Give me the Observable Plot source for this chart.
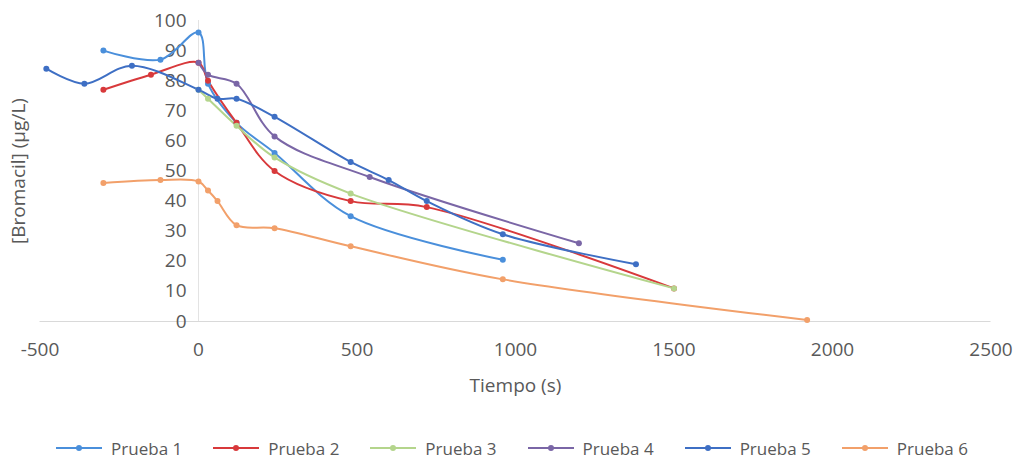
<!DOCTYPE html>
<html>
<head>
<meta charset="utf-8">
<script src="https://cdn.jsdelivr.net/npm/d3@7"></script>
<script src="https://cdn.jsdelivr.net/npm/@observablehq/plot@0.6"></script>
<style>
  body { margin: 0; background: #fff; font-family: "Open Sans", sans-serif; }
  #legend {
    display: flex; justify-content: center; align-items: center;
    gap: 30px; height: 46px; color: #595959; font-size: 17px;
  }
  #legend .item { display: flex; align-items: center; gap: 8px; }
</style>
</head>
<body>
<div id="chart"></div>
<div id="legend"></div>
<script>
// Series names and colours
const series = ["Prueba 1", "Prueba 2", "Prueba 3", "Prueba 4", "Prueba 5", "Prueba 6"];
const colors = ["#4a8fdb", "#d8393b", "#b4d58c", "#7a66a6", "#3e6fc4", "#f2a06a"];

// Time (s) and [Bromacil] (µg/L) for each test
const p1Time = [-300, -120, 0, 30, 120, 240, 480, 960];
const p1Conc = [90, 87, 96, 79, 66, 56, 35, 20.5];

const p2Time = [-300, -150, 0, 30, 120, 240, 480, 720, 1500];
const p2Conc = [77, 82, 86, 80, 66, 50, 40, 38, 11];

const p3Time = [0, 30, 120, 240, 480, 1500];
const p3Conc = [77, 74, 65, 54.5, 42.5, 11];

const p4Time = [0, 30, 120, 240, 540, 1200];
const p4Conc = [86, 82, 79, 61.5, 48, 26];

const p5Time = [-480, -360, -210, 0, 60, 120, 240, 480, 600, 720, 960, 1380];
const p5Conc = [84, 79, 85, 77, 74, 74, 68, 53, 47, 40, 29, 19];

const p6Time = [-300, -120, 0, 30, 60, 120, 240, 480, 960, 1920];
const p6Conc = [46, 47, 46.5, 43.5, 40, 32, 31, 25, 14, 0.5];

// Axis tick values
const xTicks = [-500, 0, 500, 1000, 1500, 2000, 2500];
const yTicks = [0, 10, 20, 30, 40, 50, 60, 70, 80, 90, 100];

const times = [p1Time, p2Time, p3Time, p4Time, p5Time, p6Time];
const concs = [p1Conc, p2Conc, p3Conc, p4Conc, p5Conc, p6Conc];

const rows = series.flatMap((name, i) =>
  times[i].map((t, j) => ({serie: name, t, c: concs[i][j]}))
);

const textColor = "#595959";

const chart = Plot.plot({
  width: 1023,
  height: 425,
  marginLeft: 39.5,
  marginRight: 32.5,
  marginTop: 20,
  marginBottom: 104,
  x: {domain: [-500, 2500], axis: null},
  y: {domain: [0, 100], axis: null},
  color: {domain: series, range: colors},
  style: {fontFamily: "Open Sans, sans-serif", background: "#fff"},
  marks: [
    Plot.ruleY([0], {stroke: "#d9d9d9", strokeWidth: 1}),
    Plot.ruleX([0], {y1: 0, y2: 100, stroke: "#e3e3e3", strokeWidth: 1}),
    Plot.text(yTicks, {x: 0, y: d => d, text: d => String(d), dx: -12, textAnchor: "end", fill: textColor, fontSize: 19}),
    Plot.text(xTicks, {x: d => d, y: 0, text: d => String(d), dy: 28, fill: textColor, fontSize: 19}),
    Plot.text(["Tiempo (s)"], {frameAnchor: "bottom", lineAnchor: "middle", dy: 64, fill: textColor, fontSize: 19}),
    Plot.text(["[Bromacil] (µg/L)"], {frameAnchor: "left", textAnchor: "middle", lineAnchor: "middle", rotate: -90, dx: -21.5, fill: textColor, fontSize: 19}),
    Plot.line(rows, {x: "t", y: "c", z: "serie", stroke: "serie", curve: "catmull-rom", strokeWidth: 2}),
    Plot.dot(rows, {x: "t", y: "c", fill: "serie", r: 3})
  ]
});
document.getElementById("chart").append(chart);

// Legend below the chart
const legend = d3.select("#legend");
series.forEach((name, i) => {
  const item = legend.append("div").attr("class", "item");
  const sw = item.append("svg").attr("width", 48).attr("height", 12);
  sw.append("line").attr("x1", 1).attr("x2", 47).attr("y1", 6).attr("y2", 6)
    .attr("stroke", colors[i]).attr("stroke-width", 2);
  sw.append("circle").attr("cx", 24).attr("cy", 6).attr("r", 3).attr("fill", colors[i]);
  item.append("span").text(name);
});
</script>
</body>
</html>
